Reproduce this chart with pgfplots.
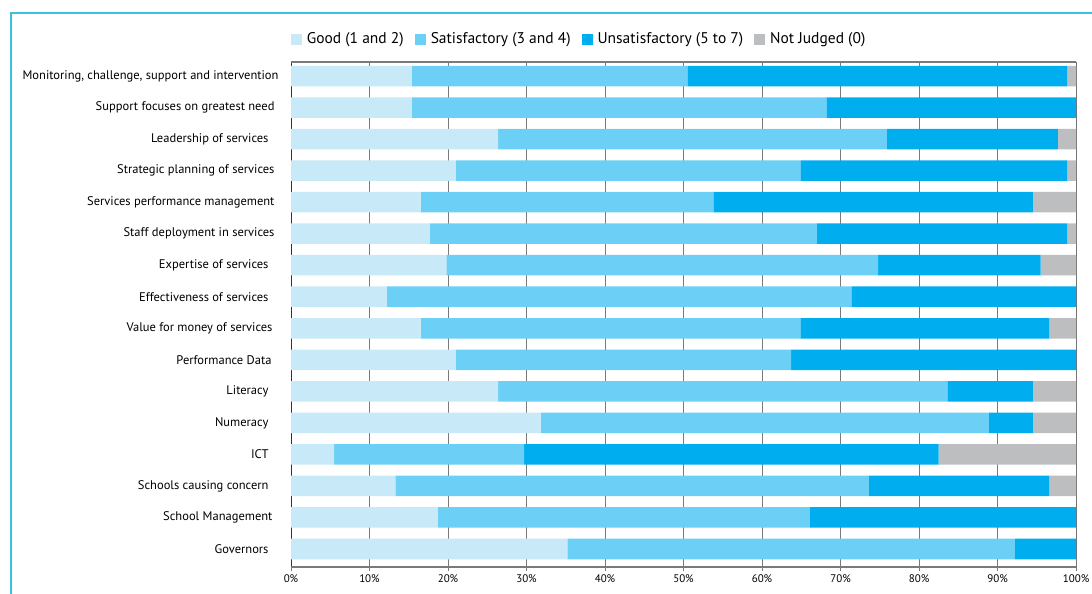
\documentclass[border=0pt]{standalone}
\usepackage{pgfplots}
\usepackage{pgfplotstable}
\pgfplotsset{compat=1.18}
\usepackage{fontspec}
\setmainfont{PT Sans}
\definecolor{cgood}{HTML}{C7E9F8}
\definecolor{csat}{HTML}{6CCFF6}
\definecolor{cunsat}{HTML}{00AEEF}
\definecolor{cnj}{HTML}{BCBEC0}
\definecolor{cframe}{HTML}{3CC0E0}
\definecolor{cgrid}{HTML}{7A7A7A}

\pgfplotstableread{
idx good sat unsat nj
0 15.4 35.1 48.4 1.1
1 15.4 52.8 31.8 0
2 26.4 49.5 21.8 2.3
3 21.0 43.9 34.0 1.1
4 16.5 37.3 40.7 5.5
5 17.7 49.3 31.9 1.1
6 19.8 55.0 20.7 4.5
7 12.2 59.2 28.6 0
8 16.5 48.4 31.7 3.4
9 21.0 42.7 36.3 0
10 26.4 57.2 10.9 5.5
11 31.8 57.1 5.6 5.5
12 5.5 24.2 52.8 17.5
13 13.3 60.3 23.0 3.4
14 18.7 47.4 33.9 0
15 35.2 57.0 7.8 0
}\data

\begin{document}
\begin{tikzpicture}
\path[use as bounding box] (0pt,0pt) rectangle (1092pt,594pt);
\draw[cframe, line width=2pt] (1092pt,581pt) -- (11pt,581pt) -- (11pt,0pt);
\begin{axis}[
  at={(291pt,27pt)}, anchor=south west,
  scale only axis, width=785pt, height=505pt,
  xbar stacked, bar width=20.5pt,
  xmin=0, xmax=100,
  ymin=-0.444, ymax=15.571, y dir=reverse,
  ytick=data,
  yticklabels={
    {Monitoring, challenge, support and intervention},
    {Support focuses on greatest need\hspace*{4pt}},
    {Leadership of services\hspace*{10pt}},
    {Strategic planning of services\hspace*{4pt}},
    {Services performance management\hspace*{4pt}},
    {Staff deployment in services\hspace*{4pt}},
    {Expertise of services\hspace*{10pt}},
    {Effectiveness of services\hspace*{10pt}},
    {Value for money of services\hspace*{6pt}},
    {Performance Data\hspace*{7pt}},
    {Literacy\hspace*{10pt}},
    {Numeracy\hspace*{10pt}},
    {ICT\hspace*{10pt}},
    {Schools causing concern\hspace*{10pt}},
    {School Management\hspace*{6pt}},
    {Governors\hspace*{10pt}}},
  yticklabel style={font=\fontsize{12.5}{14}\selectfont, xshift=-5pt},
  y tick style={draw=none},
  xtick={0,10,...,100},
  xticklabel={\pgfmathprintnumber{\tick}\%},
  xticklabel style={font=\fontsize{11}{12}\selectfont},
  /pgf/number format/assume math mode=true,
  xtick pos=bottom, tick align=center, major tick length=8pt,
  x tick style={cgrid, line width=1pt},
  xmajorgrids, grid style={cgrid, line width=1pt},
  axis line style={cgrid, line width=1pt},
  axis x line*=bottom,
  axis y line*=left,
  legend columns=4,
  legend style={draw=none, fill=none, at={(rel axis cs:0.367,1.0455)}, anchor=center,
    font=\fontsize{15.5}{17}\selectfont,
    /tikz/every even column/.append style={column sep=9pt},
    /tikz/every odd column/.append style={column sep=3pt},
    inner sep=0pt},
  legend image code/.code={\fill[#1] (0pt,-5.5pt) rectangle (11pt,5.5pt);},
]
\addplot[fill=cgood, draw=none] table[x=good, y=idx] {\data};
\addplot[fill=csat, draw=none] table[x=sat, y=idx] {\data};
\addplot[fill=cunsat, draw=none] table[x=unsat, y=idx] {\data};
\addplot[fill=cnj, draw=none] table[x=nj, y=idx] {\data};
\legend{Good (1 and 2), Satisfactory (3 and 4), Unsatisfactory (5 to 7), Not Judged (0)}
\draw[cgrid, line width=1.5pt] (rel axis cs:-0.008,1) -- (rel axis cs:1,1);
\draw[cgrid, line width=2pt] (rel axis cs:-0.011,0) -- (rel axis cs:1,0);
\draw[black!80, line width=1pt] (rel axis cs:0,0) -- (rel axis cs:0,1);
\draw[black!70, line width=1pt] (rel axis cs:1,0) -- (rel axis cs:1,1);
\end{axis}
\end{tikzpicture}
\end{document}
